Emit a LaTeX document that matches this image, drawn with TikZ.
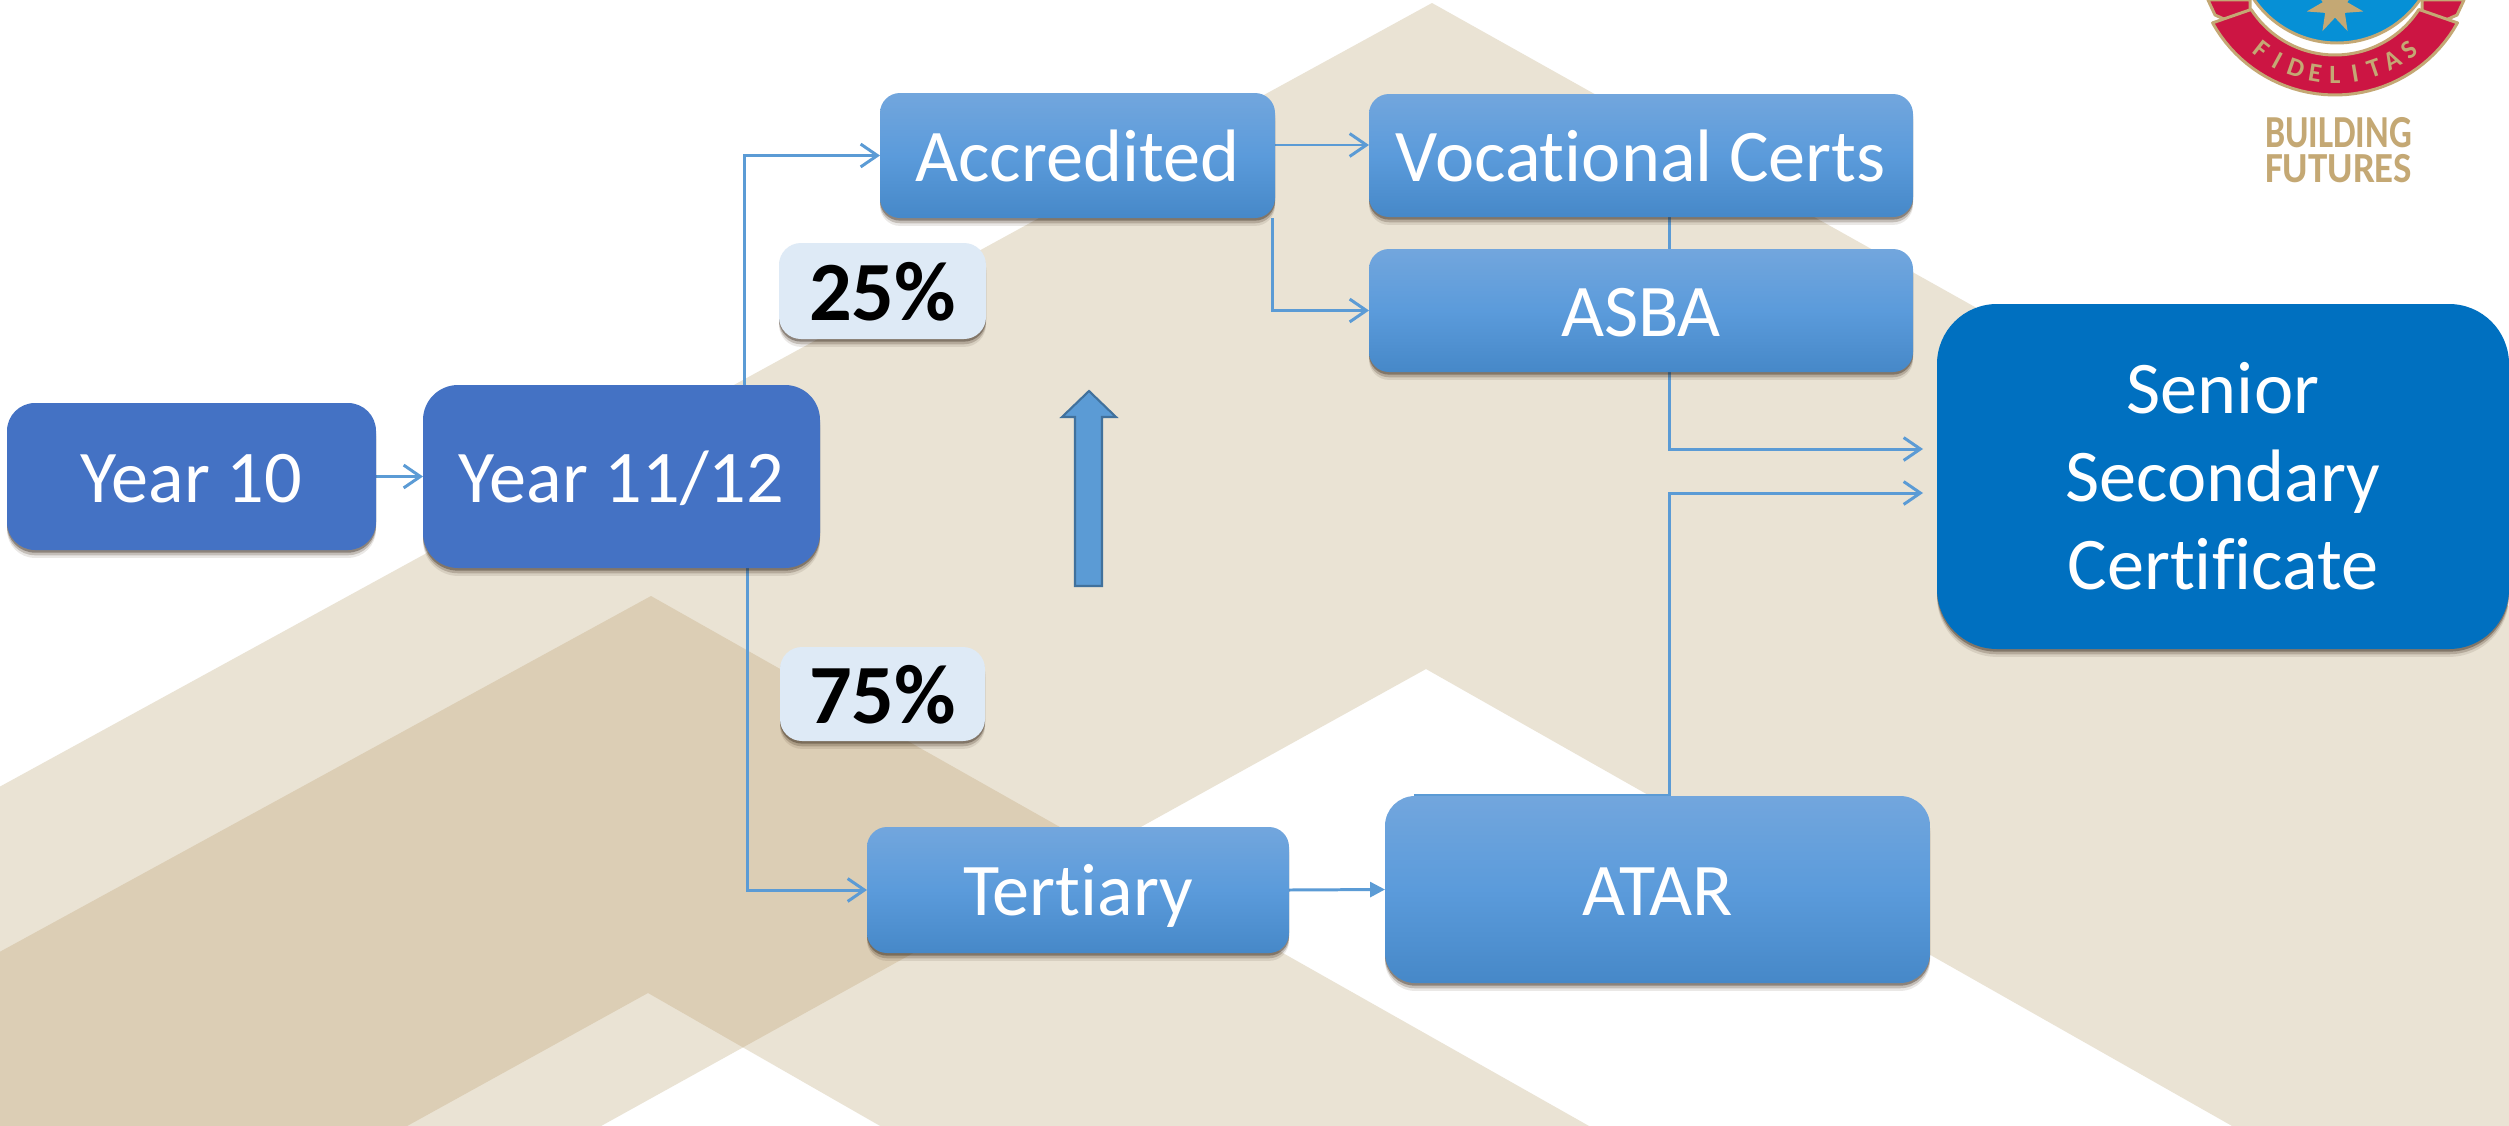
\documentclass[tikz,border=0pt]{standalone}
\usepackage{fontspec}
\setmainfont{Carlito}[Ligatures=NoCommon]
\usetikzlibrary{arrows.meta,shadows,shapes.geometric}
\definecolor{bglight}{HTML}{EAE3D4}
\definecolor{bgdark}{HTML}{DCCEB5}
\definecolor{linkblue}{HTML}{5B9BD5}
\definecolor{yearblue}{HTML}{4472C4}
\definecolor{certblue}{HTML}{0070C0}
\definecolor{labelblue}{HTML}{DEEAF6}
\definecolor{arrowedge}{HTML}{41719C}
\definecolor{gradtop}{HTML}{72A6DD}
\definecolor{gradmid}{HTML}{5B9BDB}
\definecolor{gradbot}{HTML}{4688C8}
\definecolor{crestgold}{HTML}{C4A874}
\definecolor{crestred}{HTML}{CC1543}
\definecolor{crestblue}{HTML}{0690D6}
\newcommand\pxu{0.02cm}
\pgfdeclarelayer{bg}
\pgfsetlayers{bg,main}
\tikzset{
  softshadow/.style={
    general shadow={shadow xshift=0pt,shadow yshift=-4.5pt,fill=black!70!brown,opacity=.10},
    general shadow={shadow xshift=0pt,shadow yshift=-3pt,fill=black!70!brown,opacity=.22},
    general shadow={shadow xshift=0pt,shadow yshift=-1.5pt,fill=black!80!brown,opacity=.35}},
  box/.style={softshadow,draw=none,outer sep=0pt,inner sep=0pt,align=center,text=white,
    font=\fontsize{42.3}{50}\selectfont},
  oneline/.style={text height=29.2pt,text depth=0pt},
  yearbox/.style={box,oneline,fill=yearblue},
  gradbox/.style={box,oneline,top color=gradtop,bottom color=gradbot,middle color=gradmid},
  certbox/.style={box,fill=certblue,rounded corners=60*\pxu},
  pctbox/.style={box,fill=labelblue,text=black,rounded corners=22*\pxu,
    text height=34pt,text depth=0pt,
    font=\fontsize{48}{50}\selectfont\bfseries},
  link/.style={draw=linkblue,line width=1.7pt,-{Straight Barb[length=9.5pt,width=13pt,line width=1.7pt]}},
  solidlink/.style={draw=linkblue,line width=1.7pt,-{Triangle[length=8.5pt,width=8.5pt]}},
  goldtext/.style={text=crestgold,inner sep=0pt,outer sep=0pt},
}
\begin{document}
\begin{tikzpicture}[x=0.02cm,y=-0.02cm]
\useasboundingbox (0,0) rectangle (2509,1126);
\begin{pgfonlayer}{bg}
  \begin{scope}
    \clip (0,0) rectangle (2509,1126);
    \fill[white] (0,0) rectangle (2509,1126);
    \fill[bglight] (1432,3) -- (2800,769) -- (2800,1300) -- (2539,1300) -- (1426,669) -- (287,1300) -- (-200,1300) -- (-200,896) -- cycle;
    \fill[bglight] (651,596) -- (1897,1300) -- (1184,1300) -- (648,993) -- (92,1300) -- (-200,1300) -- (-200,1061) -- cycle;
    \begin{scope}
      \clip (1432,3) -- (2800,769) -- (2800,1300) -- (2539,1300) -- (1426,669) -- (287,1300) -- (-200,1300) -- (-200,896) -- cycle;
      \fill[bgdark] (651,596) -- (1897,1300) -- (1184,1300) -- (648,993) -- (92,1300) -- (-200,1300) -- (-200,1061) -- cycle;
    \end{scope}
  \end{scope}
\end{pgfonlayer}

% crest
\filldraw[fill=crestblue,draw=crestgold,line width=1.7pt] (2337,-58) circle (101);
\node[star,star points=7,star point ratio=2.3,fill=crestgold,draw=none,minimum size=58*\pxu,inner sep=0pt] (creststar) at (2335,5) {};
\filldraw[fill=crestred,draw=crestgold,line width=1.7pt,line join=round] (2208,0) -- (2250,0) -- (2250,10) -- (2235,24) -- (2215,15) -- cycle;
\filldraw[fill=crestred,draw=crestgold,line width=1.7pt,line join=round] (2464,0) -- (2422,0) -- (2422,10) -- (2437,24) -- (2457,15) -- cycle;
\filldraw[fill=crestred,draw=crestgold,line width=1.7pt,line join=round]
  plot[domain=-61:61,samples=40] ({2335+140*sin(\x)},{-45+140*cos(\x)})
  -- plot[domain=57:-57,samples=40] ({2335+100*sin(\x)},{-45+100*cos(\x)}) -- cycle;
\foreach \L [count=\i] in {F,I,D,E,L,I,T,A,S}{
  \pgfmathsetmacro\ang{-38+9.5*(\i-1)}
  \node[goldtext,rotate=\ang,font=\fontsize{15}{15}\selectfont\bfseries] (crestletter\i)
    at ({2335+120*sin(\ang)},{-45+120*cos(\ang)}) {\L};
}
\node[goldtext] (building) at (2338.5,133) {\resizebox{83.6pt}{17.1pt}{\bfseries BUILDING}};
\node[goldtext] (futures) at (2338.5,169) {\resizebox{83.6pt}{16pt}{\bfseries FUTURES}};

% boxes
\node[yearbox,rounded corners=28*\pxu,minimum width=369*\pxu,minimum height=147*\pxu] (y10) at (191.5,476.5) {Year 10};
\node[yearbox,rounded corners=35*\pxu,minimum width=397*\pxu,minimum height=183*\pxu] (y11) at (621.5,476.5) {Year 11/12};
\node[gradbox,rounded corners=20*\pxu,minimum width=395*\pxu,minimum height=125*\pxu] (acc) at (1077.5,155.5) {Accredited};
\node[gradbox,rounded corners=20*\pxu,minimum width=544*\pxu,minimum height=123*\pxu] (voc) at (1641,155.5) {Vocational Certs};
\node[gradbox,rounded corners=20*\pxu,minimum width=544*\pxu,minimum height=123*\pxu] (asba) at (1641,310.5) {ASBA};
\node[gradbox,rounded corners=20*\pxu,minimum width=422*\pxu,minimum height=126*\pxu] (ter) at (1078,890) {Tertiary};
\node[gradbox,rounded corners=30*\pxu,minimum width=545*\pxu,minimum height=187*\pxu] (atar) at (1657.5,889.5) {ATAR};
\node[certbox,minimum width=572*\pxu,minimum height=345*\pxu] (cert) at (2223,476.5) {Senior\\Secondary\\Certificate};
\node[pctbox,minimum width=207*\pxu,minimum height=96*\pxu] (p25) at (882.5,291) {25\%};
\node[pctbox,minimum width=205*\pxu,minimum height=94*\pxu] (p75) at (882.5,694) {75\%};

% block arrow
\filldraw[fill=linkblue,draw=arrowedge,line width=1.2pt] (1075,586) -- (1075,417) -- (1062,417) -- (1089,391) -- (1116,417) -- (1102,417) -- (1102,586) -- cycle;

% connectors
\begin{pgfonlayer}{bg}
  \draw[link] (y10.east) -- (y11.west);
  \draw[link] ([xshift=122.5*\pxu]y11.north) |- (acc.west);
  \draw[link] ([xshift=125.5*\pxu]y11.south) |- (ter.west);
  \draw[link] ([yshift=10.5*\pxu]acc.east) -- ([yshift=10.5*\pxu]voc.west);
  \draw[link] ([xshift=194.5*\pxu]acc.south) |- (asba.west);
  \draw[link] ([xshift=28*\pxu]voc.south) |- ([xshift=-14*\pxu,yshift=27.5*\pxu]cert.west);
  \draw[link] ([xshift=-243.5*\pxu,yshift=1*\pxu]atar.north) -- ([xshift=11.5*\pxu,yshift=1*\pxu]atar.north) |- ([xshift=-14*\pxu,yshift=-16.5*\pxu]cert.west);
  \draw[solidlink] (ter.east) -- (atar.west);
\end{pgfonlayer}
\end{tikzpicture}
\end{document}
